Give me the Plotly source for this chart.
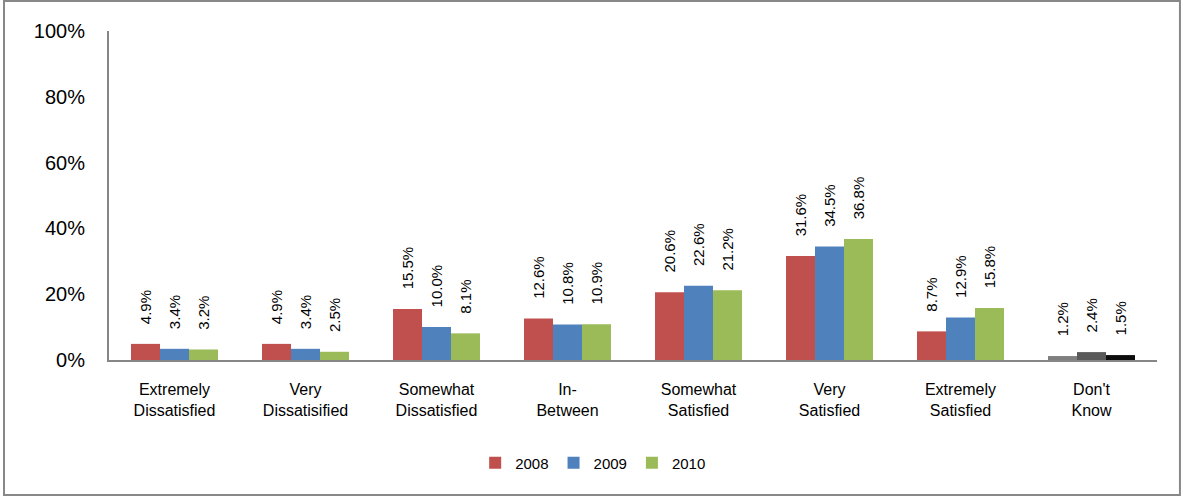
import plotly.graph_objects as go

categories = ["Extremely<br>Dissatisfied", "Very<br>Dissatisified", "Somewhat<br>Dissatisfied",
              "In-<br>Between", "Somewhat<br>Satisfied", "Very<br>Satisfied",
              "Extremely<br>Satisfied", "Don't<br>Know"]
years = ["2008", "2009", "2010"]
v2008 = [4.9, 4.9, 15.5, 12.6, 20.6, 31.6, 8.7, 1.2]
v2009 = [3.4, 3.4, 10.0, 10.8, 22.6, 34.5, 12.9, 2.4]
v2010 = [3.2, 2.5, 8.1, 10.9, 21.2, 36.8, 15.8, 1.5]
y_ticks = [0, 20, 40, 60, 80, 100]
y_tick_labels = ["0%", "20%", "40%", "60%", "80%", "100%"]

# main colours, with the "Don't Know" group drawn in greys
colors = ["#C0504D", "#4F81BD", "#9BBB59"]
dont_know_colors = ["#7F7F7F", "#595959", "#0D0D0D"]

fig = go.Figure()
for i, (name, vals) in enumerate(zip(years, [v2008, v2009, v2010])):
    bar_colors = [colors[i]] * (len(vals) - 1) + [dont_know_colors[i]]
    fig.add_trace(go.Bar(
        x=categories, y=vals, name=name,
        marker=dict(color=bar_colors, line=dict(width=0)),
        # leading spaces push the rotated label up off the bar top
        text=["\u00a0\u00a0\u00a0\u00a0" + f"{v:.1f}%" for v in vals],
        textposition="outside", textangle=-90, cliponaxis=False,
        constraintext="none",
        textfont=dict(family="Liberation Sans, Arial", size=15, color="#000000"),
    ))

fig.update_layout(
    width=1183, height=497,
    paper_bgcolor="white", plot_bgcolor="white",
    margin=dict(l=109, r=26, t=31, b=137, autoexpand=False),
    barmode="group", bargap=0.336, bargroupgap=0,
    font=dict(family="Liberation Sans, Arial", color="#000000"),
    showlegend=True,
    legend=dict(orientation="h", x=0.462, xanchor="center", y=-0.313, yanchor="middle",
                font=dict(size=15), itemwidth=30, traceorder="normal"),
    xaxis=dict(showline=True, linecolor="#868686", linewidth=2, ticks="",
               tickfont=dict(size=16), ticklabelstandoff=14, showgrid=False),
    yaxis=dict(range=[0, 100], tickmode="array", tickvals=y_ticks, ticktext=y_tick_labels,
               showline=True, linecolor="#868686", linewidth=2, ticks="",
               tickfont=dict(size=20), ticklabelstandoff=18, showgrid=False, zeroline=False),
)

# outer chart border
fig.add_shape(type="rect", xref="paper", yref="paper",
              x0=-0.1002, x1=1.0219, y0=-0.4103, y1=1.0912,
              line=dict(color="#888888", width=2))

fig.write_html("out.html", config={"displayModeBar": False},
               post_script="document.body.style.margin='0';")
